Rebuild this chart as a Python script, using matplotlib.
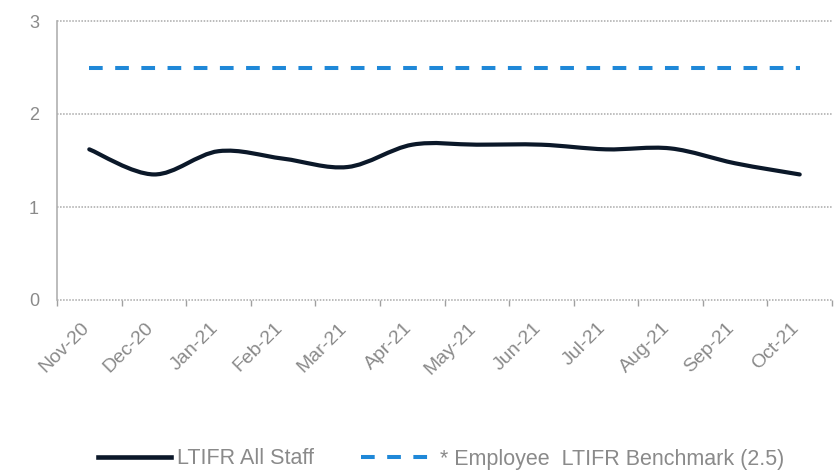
import numpy as np
import matplotlib
matplotlib.use("Agg")
import matplotlib.pyplot as plt
from matplotlib.path import Path
from matplotlib.patches import PathPatch
from matplotlib.lines import Line2D
import matplotlib.transforms as mtransforms

months = ["Nov-20", "Dec-20", "Jan-21", "Feb-21", "Mar-21", "Apr-21",
          "May-21", "Jun-21", "Jul-21", "Aug-21", "Sep-21", "Oct-21"]
ltifr_all_staff = [1.62, 1.35, 1.60, 1.52, 1.43, 1.67, 1.67, 1.67, 1.62, 1.63, 1.47, 1.35]
benchmark = [2.5] * 12
yticks = [0, 1, 2, 3]

plt.rcParams['font.family'] = ['Liberation Sans', 'DejaVu Sans']

fig = plt.figure(figsize=(8.38, 4.71), dpi=100)
ax = fig.add_axes([57/838, 1 - 300/471, (832-57)/838, (300-21)/471])

x = np.arange(len(months))
navy = "#0b1829"
blue = "#1f88d8"
gray = "#8a8a8a"
dash = (0, (3.4, 3.1))

# smooth line via Catmull-Rom -> cubic Bezier
def smooth_path(xs, ys, t=1/6):
    xs = np.asarray(xs, float); ys = np.asarray(ys, float)
    n = len(xs)
    verts = [(xs[0], ys[0])]
    codes = [Path.MOVETO]
    for i in range(n - 1):
        p0 = (xs[max(i-1, 0)], ys[max(i-1, 0)])
        p1 = (xs[i], ys[i]); p2 = (xs[i+1], ys[i+1])
        p3 = (xs[min(i+2, n-1)], ys[min(i+2, n-1)])
        c1 = (p1[0] + (p2[0]-p0[0])*t, p1[1] + (p2[1]-p0[1])*t)
        c2 = (p2[0] - (p3[0]-p1[0])*t, p2[1] - (p3[1]-p1[1])*t)
        verts += [c1, c2, p2]
        codes += [Path.CURVE4]*3
    return Path(verts, codes)

ax.add_patch(PathPatch(smooth_path(x, ltifr_all_staff), fill=False,
                       edgecolor=navy, lw=3.0, capstyle='round', zorder=3))
ax.plot(x, benchmark, color=blue, lw=2.9, linestyle=dash, zorder=3)

ax.set_xlim(-0.5, len(months) - 0.5)
ax.set_ylim(0, 3)
ax.set_yticks(yticks)
ax.set_yticklabels([str(v) for v in yticks], fontsize=13, color=gray)
ax.tick_params(axis='y', length=0, pad=13)

ax.set_xticks(x)
ax.set_xticklabels(months, rotation=45, ha='right', va='top', fontsize=14,
                   color=gray)
ax.tick_params(axis='x', which='major', length=0, pad=14)
offset = mtransforms.ScaledTranslation(3/100, 0, fig.dpi_scale_trans)
for lab in ax.get_xticklabels():
    lab.set_transform(lab.get_transform() + offset)
ax.set_xticks(np.arange(-0.5, len(months)), minor=True)
ax.tick_params(axis='x', which='minor', length=4, color="#a0a0a0", width=1)

for y in yticks:
    ax.axhline(y, color="#a8a8a8", lw=1.1, linestyle=(0, (1, 1)), zorder=1, clip_on=False)

for s in ['top', 'right', 'bottom']:
    ax.spines[s].set_visible(False)
ax.spines['left'].set_color("#b0b0b0")
ax.spines['left'].set_linewidth(1.2)

handles = [Line2D([], [], color=navy, lw=3.3),
           Line2D([], [], color=blue, lw=2.9, linestyle=dash)]
labels = ["LTIFR All Staff", "* Employee  LTIFR Benchmark (2.5)"]
leg = fig.legend(handles, labels, loc='center', bbox_to_anchor=(441/838, 1 - 459/471),
                 ncol=2, frameon=False, fontsize=15.5, handlelength=3.4,
                 handletextpad=0.25, columnspacing=2.2)
for t in leg.get_texts():
    t.set_color(gray)

fig.savefig("out.png", dpi=100)
